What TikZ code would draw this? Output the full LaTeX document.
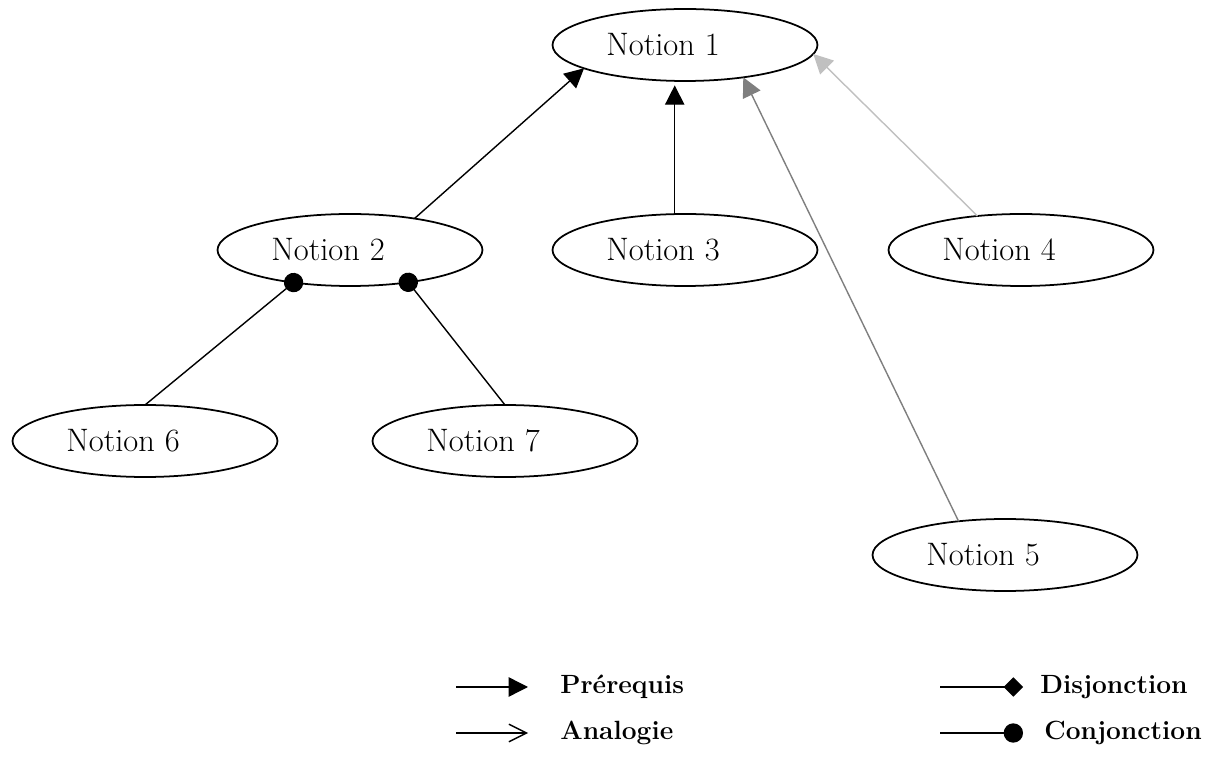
\documentclass[tikz,border=0pt]{standalone}
\usetikzlibrary{shapes.geometric,arrows.meta}
\definecolor{midgray}{HTML}{7F7F7F}
\definecolor{softgray}{HTML}{C0C0C0}
\begin{document}
\begin{tikzpicture}[x=0.02cm,y=-0.02cm,
  notion/.style={ellipse,draw,line width=1pt,minimum width=5.3cm,minimum height=1.44cm,inner sep=0pt,outer sep=0pt},
  ntext/.style={xshift=-0.44cm,font=\fontsize{18.5}{22}\selectfont,inner sep=0pt},
  legtext/.style={anchor=west,font=\fontsize{15}{18}\selectfont\bfseries,inner sep=0pt},
  conn/.style={line width=0.8pt},
  prereq/.style={conn,-{Triangle[length=11pt,width=11pt]}},
  conj/.style={conn,-{Circle[length=11pt]},shorten >=-5.5pt}
]
\useasboundingbox (0,0) rectangle (1215,773);
% notions
\node[notion,label={[ntext]center:Notion 1}] (n1) at (685,45) {};
\node[notion,label={[ntext]center:Notion 2}] (n2) at (350,250) {};
\node[notion,label={[ntext]center:Notion 3}] (n3) at (685,250) {};
\node[notion,label={[ntext]center:Notion 4}] (n4) at (1021,250) {};
\node[notion,label={[ntext]center:Notion 5}] (n5) at (1005,555) {};
\node[notion,label={[ntext]center:Notion 6}] (n6) at (145,441) {};
\node[notion,label={[ntext]center:Notion 7}] (n7) at (505,441) {};
% connectors
\draw[prereq] (n2.26) -- (n1.193);
\draw[prereq,shorten >=2.5pt] (n3.106) -- (n3.106 |- n1.south);
\draw[prereq,midgray] (n5.144) -- (n1.331);
\draw[prereq,softgray] (n4.142) -- (n1.356.4);
\draw[conj] (n6.north) -- (n2.210);
\draw[conj] (n7.north) -- (n2.331);
% legend
\coordinate (pa) at (456,687);
\coordinate (pb) at (528,687);
\node[legtext] (tp) at (560,687) {Prérequis};
\draw[prereq] (pa) -- (pb);
\coordinate (aa) at (456,733);
\coordinate (ab) at (528,733);
\node[legtext] (ta) at (560,733) {Analogie};
\draw[conn,-{Straight Barb[length=10pt,width=10pt]}] (aa) -- (ab);
\coordinate (da) at (940,687);
\coordinate (db) at (1023,687);
\node[legtext] (td) at (1040,687) {Disjonction};
\draw[conn,-{Diamond[length=11pt,width=11pt]}] (da) -- (db);
\coordinate (ca) at (940,733);
\coordinate (cb) at (1023,733);
\node[legtext] (tc) at (1044,733) {Conjonction};
\draw[conn,-{Circle[length=11pt]}] (ca) -- (cb);
\end{tikzpicture}
\end{document}
